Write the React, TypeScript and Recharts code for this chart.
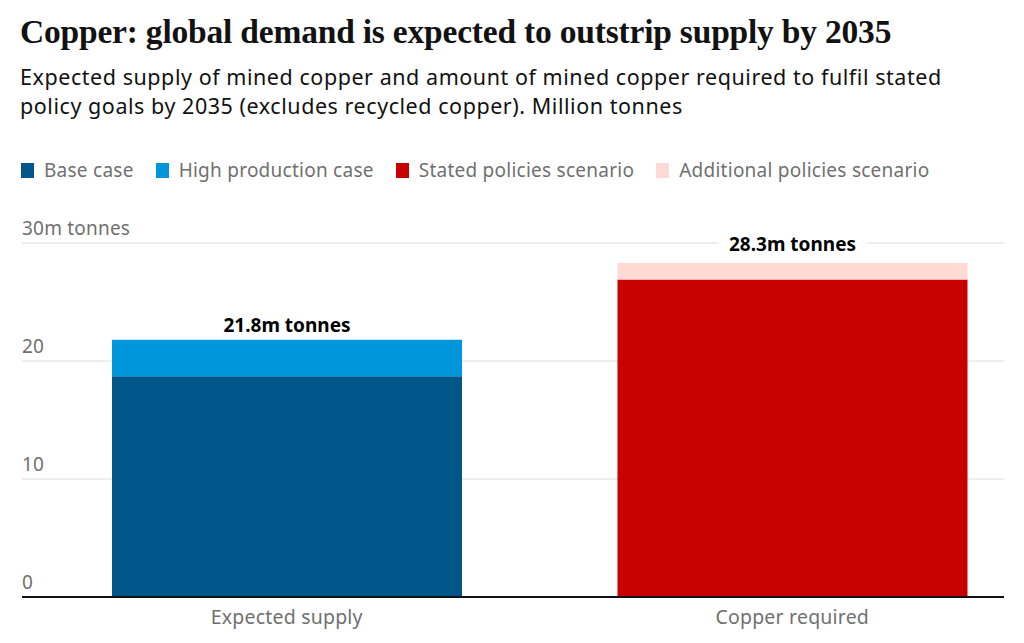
import { BarChart, Bar, XAxis, YAxis, CartesianGrid, LabelList } from 'recharts';

const categories = ['Expected supply', 'Copper required'];
const baseCase = [18.7, 0];
const highProduction = [3.1, 0];
const statedPolicies = [0, 26.9];
const additionalPolicies = [0, 1.4];
const totals = [21.8, 28.3];
const yTicks = [0, 10, 20, 30];

const seriesInfo = [
  { key: 'base', name: 'Base case', color: '#005689' },
  { key: 'high', name: 'High production case', color: '#0096db' },
  { key: 'stated', name: 'Stated policies scenario', color: '#c70000' },
  { key: 'additional', name: 'Additional policies scenario', color: '#ffd9d4' },
];

const data = categories.map((c, i) => ({
  category: c,
  base: baseCase[i],
  high: highProduction[i],
  stated: statedPolicies[i],
  additional: additionalPolicies[i],
  total: totals[i],
}));

const SANS = '"Noto Sans", "Open Sans", sans-serif';

const YTick = (props: any) => {
  const { x, y, payload } = props;
  const label = payload.value === 30 ? '30m tonnes' : String(payload.value);
  return (
    <text x={x} y={y - 8} textAnchor="start" fill="#707070" fontSize={19} letterSpacing={0.2} fontFamily={SANS}>
      {label}
    </text>
  );
};

const XTick = (props: any) => {
  const { x, y, payload } = props;
  return (
    <text x={x} y={y + 19} textAnchor="middle" fill="#707070" fontSize={19.5} letterSpacing={0.2} fontFamily={SANS}>
      {payload.value}
    </text>
  );
};

// total label above the top segment of each stack, white box cuts the gridline
const makeTotalLabel = (lift: number) => (props: any) => {
  const { x, y, width, height, value } = props;
  if (!(Math.abs(height) > 0.5)) return null;
  const cx = x + width / 2;
  const cy = Math.min(y, y + height) - lift;
  return (
    <g>
      <rect x={cx - 74} y={cy - 12} width={148} height={24} fill="#fff" />
      <text x={cx} y={cy} dy={6} textAnchor="middle" fill="#000" fontSize={19} fontWeight={700} fontFamily={SANS}>
        {`${value}m tonnes`}
      </text>
    </g>
  );
};

export default function App() {
  return (
    <div style={{ position: 'relative', width: 1024, height: 643, margin: -8, background: '#fff', overflow: 'hidden' }}>
      <div
        style={{
          position: 'absolute', left: 20, top: 13, fontFamily: '"Liberation Serif", serif',
          fontWeight: 700, fontSize: 33.5, color: '#121212', letterSpacing: -0.2, whiteSpace: 'nowrap',
        }}
      >
        Copper: global demand is expected to outstrip supply by 2035
      </div>
      <div
        style={{
          position: 'absolute', left: 20, top: 62, width: 960, fontFamily: SANS,
          fontSize: 21.5, lineHeight: '29px', letterSpacing: 0.55, color: '#121212',
        }}
      >
        Expected supply of mined copper and amount of mined copper required to fulfil stated policy goals by 2035 (excludes recycled copper). Million tonnes
      </div>
      <div style={{ position: 'absolute', left: 21, top: 157, display: 'flex', fontFamily: SANS, fontSize: 19, letterSpacing: 0.25, color: '#707070' }}>
        {seriesInfo.map((s) => (
          <div key={s.key} style={{ display: 'flex', alignItems: 'center', marginRight: 22 }}>
            <span style={{ display: 'inline-block', width: 13, height: 15, background: s.color, marginRight: 10 }} />
            <span>{s.name}</span>
          </div>
        ))}
      </div>
      <div style={{ position: 'absolute', left: 0, top: 0 }}>
        <BarChart width={1024} height={643} data={data} margin={{ top: 243, right: 20, bottom: 16, left: 22 }}>
          <CartesianGrid vertical={false} stroke="#dcdcdc" strokeWidth={1} />
          <YAxis
            domain={[0, 30]}
            ticks={yTicks}
            width={1}
            mirror
            axisLine={false}
            tickLine={false}
            tickSize={0}
            tickMargin={0}
            tick={<YTick />}
          />
          <XAxis
            dataKey="category"
            height={30}
            padding={{ left: 12, right: -41 }}
            axisLine={{ stroke: '#121212', strokeWidth: 2 }}
            tickLine={false}
            tick={<XTick />}
          />
          {seriesInfo.map((s) => (
            <Bar key={s.key} dataKey={s.key} name={s.name} stackId="a" fill={s.color} barSize={350} isAnimationActive={false}>
              {s.key === 'high' && <LabelList dataKey="total" content={makeTotalLabel(14)} />}
              {s.key === 'additional' && <LabelList dataKey="total" content={makeTotalLabel(18)} />}
            </Bar>
          ))}
        </BarChart>
      </div>
    </div>
  );
}
